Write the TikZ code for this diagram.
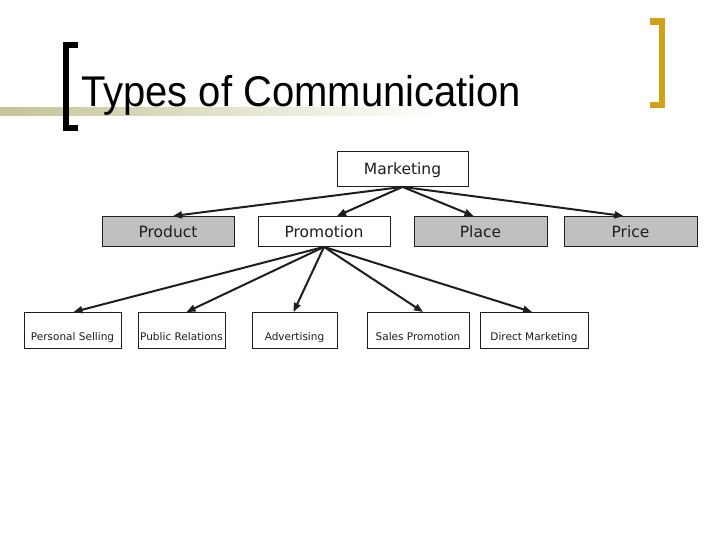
\documentclass[tikz,border=0pt]{standalone}
\usepackage{fontspec}
\usetikzlibrary{arrows.meta,calc}
\newfontfamily\titlefont{Liberation Sans}
\newfontfamily\boxfont{DejaVu Sans}
\definecolor{boxgray}{RGB}{192,192,192}
\definecolor{khaki}{RGB}{196,196,150}
\definecolor{gold}{RGB}{210,160,25}
\definecolor{ink}{RGB}{30,30,30}
\tikzset{
  boxbase/.style={draw=ink, line width=0.9pt, inner xsep=0pt, inner ysep=0pt, text=ink},
  topbox/.style={boxbase, fill=white, minimum height=35pt, text height=14pt, text depth=3pt,
    font=\boxfont\fontsize{15.5}{18}\selectfont},
  midbox/.style={boxbase, minimum height=30pt, text height=14pt, text depth=2pt,
    font=\boxfont\fontsize{15.5}{18}\selectfont},
  lowbox/.style={boxbase, fill=white, minimum height=36pt, text height=22pt, text depth=2pt,
    font=\boxfont\fontsize{10.5}{12}\selectfont},
  link/.style={draw=ink, line width=2pt, -{Triangle[length=9pt,width=7pt]}}
}
\begin{document}
\begin{tikzpicture}[x=1pt,y=-1pt]
\useasboundingbox (0,0) rectangle (720,540);
% gradient band
\shade[left color=khaki, right color=white, middle color=khaki!50] (0,108) rectangle (440,116);
% left bracket
\fill[black] (63,42) rectangle (69,131);
\fill[black] (63,42) rectangle (78,48);
\fill[black] (63,125) rectangle (78,131);
% right bracket
\fill[gold] (659,18) rectangle (665,108);
\fill[gold] (650,18) rectangle (665,25);
\fill[gold] (650,102) rectangle (665,108);
% title
\node[anchor=base west, inner sep=0pt, font=\titlefont\fontsize{43}{48}\selectfont] (title) at (81,107)
  {\scalebox{0.93}[1]{Types of Communication}};
% top
\node[topbox, minimum width=131pt, anchor=north] (mk) at (402.5,151) {Marketing};
% level 1
\node[midbox, fill=boxgray, minimum width=132pt, anchor=north] (prod) at (168,216) {Product};
\node[midbox, fill=white, minimum width=132pt, anchor=north] (prom) at (324,216) {Promotion};
\node[midbox, fill=boxgray, minimum width=133pt, anchor=north] (place) at (480.5,216) {Place};
\node[midbox, fill=boxgray, minimum width=133pt, anchor=north] (price) at (630.5,216) {Price};
% level 2
\node[lowbox, minimum width=97pt, anchor=north] (ps) at (72.5,312) {Personal Selling};
\node[lowbox, minimum width=87pt, anchor=north] (pr) at (181.5,312) {Public Relations};
\node[lowbox, minimum width=85pt, anchor=north] (ad) at (294.5,312) {Advertising};
\node[lowbox, minimum width=102pt, anchor=north] (sp) at (418,312) {Sales Promotion};
\node[lowbox, minimum width=108pt, anchor=north] (dm) at (534,312) {Direct Marketing};
% connectors
\draw[link] (mk.south) -- ($(prod.north)+(5,0)$);
\draw[link] (mk.south) -- ($(prom.north)+(13,0)$);
\draw[link] (mk.south) -- ($(place.north)+(-7,0)$);
\draw[link] (mk.south) -- ($(price.north)+(-7,0)$);
\draw[link] (prom.south) -- ($(ps.north)+(1,0)$);
\draw[link] (prom.south) -- ($(pr.north)+(5,0)$);
\draw[link] (prom.south) -- ($(ad.north)+(-1,0)$);
\draw[link] (prom.south) -- ($(sp.north)+(5,0)$);
\draw[link] (prom.south) -- ($(dm.north)+(-2,0)$);
\end{tikzpicture}
\end{document}
